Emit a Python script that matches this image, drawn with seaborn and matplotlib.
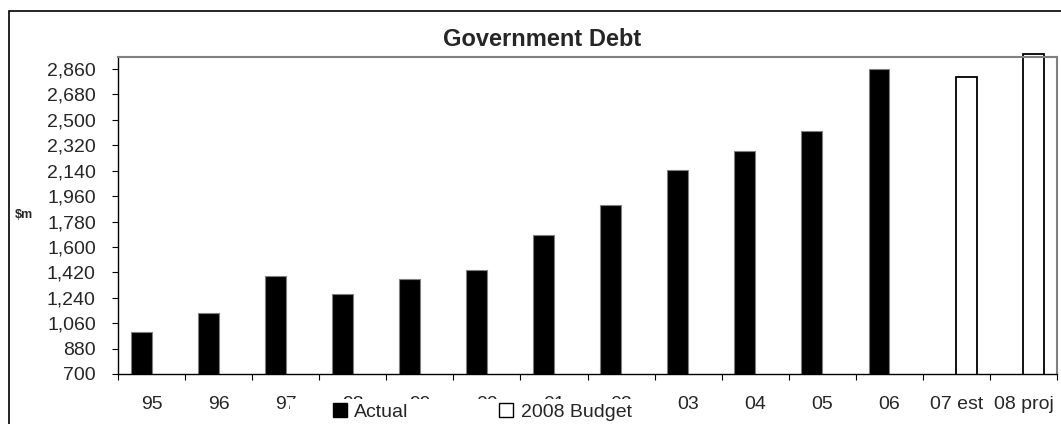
import matplotlib
matplotlib.use("Agg")
import matplotlib.pyplot as plt
import seaborn as sns
import pandas as pd
import numpy as np
from matplotlib.lines import Line2D
from matplotlib.patches import Rectangle
from matplotlib.transforms import Bbox, TransformedBbox

categories = ["95", "96", "97", "98", "99", "00", "01", "02", "03", "04", "05", "06", "07 est", "08 proj"]
actual = [1000, 1130, 1396, 1269, 1373, 1437, 1682, 1899, 2143, 2281, 2423, 2860, np.nan, np.nan]
budget = [np.nan] * 12 + [2806, 2964]
y_ticks = [700, 880, 1060, 1240, 1420, 1600, 1780, 1960, 2140, 2320, 2500, 2680, 2860]
series = ["Actual", "2008 Budget"]

df = pd.DataFrame({
    "Year": categories * 2,
    "Value": actual + budget,
    "Series": [series[0]] * len(categories) + [series[1]] * len(categories),
})

sns.set_style("white")
plt.rcParams["font.family"] = ["Liberation Sans", "DejaVu Sans"]

W, H = 1061, 424
fig = plt.figure(figsize=(W / 100, H / 100), dpi=100)
L, R, T, B = 118, 1057, 57, 374
ax = fig.add_axes([L / W, 1 - B / H, (R - L) / W, (B - T) / H])

sns.barplot(data=df, x="Year", y="Value", hue="Series", order=categories,
            hue_order=series, palette={"Actual": "black", "2008 Budget": "white"},
            width=0.62, dodge=True, ax=ax, legend=False, saturation=1)

# allow bars to poke slightly above the plot area (as in the reference), but clip at bottom
clip = TransformedBbox(Bbox([[0, 0], [1, 1.2]]), ax.transAxes)
for p in ax.patches:
    fc = p.get_facecolor()
    if fc[0] > 0.5:
        p.set_edgecolor("black")
        p.set_linewidth(1.3)
    else:
        p.set_edgecolor("#808080")
        p.set_linewidth(0.8)
    p.set_clip_box(clip)

ax.set_xlim(-0.5, len(categories) - 0.5)
ax.set_ylim(700, 2945)
ax.set_yticks(y_ticks)
ax.set_yticklabels([f"{v:,}" for v in y_ticks], fontsize=14)
ax.set_xticks(range(len(categories)))
ax.set_xticklabels(categories, fontsize=14)
ax.set_xticks(np.arange(-0.5, len(categories), 1.0), minor=True)
ax.tick_params(axis="x", which="major", length=0, pad=15.5)
ax.tick_params(axis="x", which="minor", length=4, width=0.8, color="black", direction="out", bottom=True)
ax.tick_params(axis="y", length=4, width=0.8, color="black", direction="out", left=True, pad=12)
ax.set_xlabel("")
ax.set_ylabel("")

for s in ["left", "bottom"]:
    ax.spines[s].set_color("black")
    ax.spines[s].set_linewidth(1.0)
for s in ["top", "right"]:
    ax.spines[s].set_color("#808080")
    ax.spines[s].set_linewidth(1.5)

# outer chart frame
fig.patches.append(Rectangle((9 / W, -0.1), 1.2, 1 - 11 / H + 0.1, transform=fig.transFigure,
                             fill=False, edgecolor="black", linewidth=1.2, zorder=0))

fig.text(542 / W, 1 - 40 / H, "Government Debt", fontsize=17, fontweight="bold",
         ha="center", va="center")
fig.text(24 / W, 1 - 215 / H, "$m", fontsize=9, fontweight="bold", ha="center", va="center")

# legend background covering part of the tick labels
fig.patches.append(Rectangle((290 / W, 0), (660 - 290) / W, 1 - 399 / H, transform=fig.transFigure,
                             facecolor="white", edgecolor="none", zorder=3))
handles = [
    Line2D([], [], linestyle="none", marker="s", markersize=10, markerfacecolor="black",
           markeredgecolor="black"),
    Line2D([], [], linestyle="none", marker="s", markersize=10, markerfacecolor="white",
           markeredgecolor="black", markeredgewidth=1.0),
]
fig.legend(handles, series, loc="center left", bbox_to_anchor=(332 / W, 1 - 412 / H),
           ncol=2, frameon=False, fontsize=14, handlelength=0.8, handletextpad=0.35,
           columnspacing=4.6, borderpad=0, borderaxespad=0)

fig.savefig("out.png", dpi=100)
